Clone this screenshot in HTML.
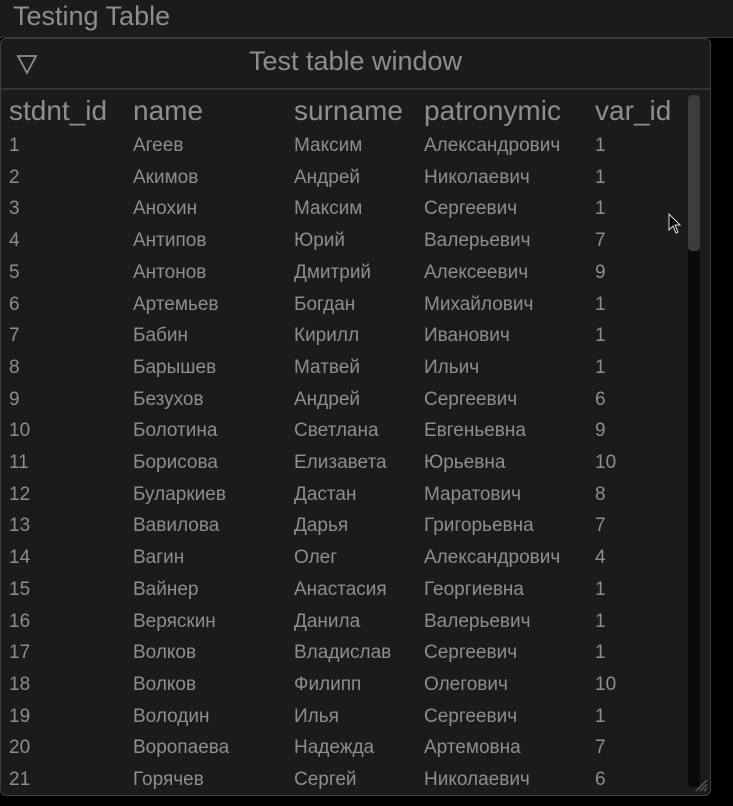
<!DOCTYPE html>
<html><head><meta charset="utf-8"><style>
body{margin:0;width:733px;height:806px;background:#000;overflow:hidden;font-family:"Liberation Sans","DejaVu Sans",sans-serif;color:#8e8e8e;position:relative}
.top{position:absolute;left:0;top:0;width:733px;height:37px;background:#1b1b1b;border-bottom:1px solid #3a3a3a}
.top span{position:absolute;left:13px;top:1px;font-size:27px;color:#8e8e8e}
.win{position:absolute;left:0;top:38px;width:709px;height:756px;background:#1b1b1b;border:1px solid #3c3c3c;border-radius:6px;overflow:hidden}
.tb{position:absolute;left:0;top:0;width:709px;height:49px;border-bottom:2px solid #333}
.tb .t{position:absolute;left:0;width:709px;text-align:center;top:7px;font-size:27px}
.h{position:absolute;top:56px;font-size:28px}
.c{position:absolute;font-size:19px;white-space:nowrap}
.track{position:absolute;left:687px;top:56px;width:12px;height:692px;background:#0a0a0a;border-radius:4px}
.thumb{position:absolute;left:687px;top:56px;width:12px;height:156px;background:#3c3c3c;border-radius:4px}
</style></head><body>
<div class="top"><span>Testing Table</span></div>
<div class="win">
<div class="tb"><svg style="position:absolute;left:15px;top:14px" width="22" height="22"><polygon points="2,3 20,3 11,20" fill="none" stroke="#8e8e8e" stroke-width="1.8"/></svg><div class="t">Test table window</div></div>
<div class="h" style="left:8px">stdnt_id</div><div class="h" style="left:132px">name</div><div class="h" style="left:293px">surname</div><div class="h" style="left:423px">patronymic</div><div class="h" style="left:594px">var_id</div>
<div class="track"></div><div class="thumb"></div>
<svg style="position:absolute;left:692px;top:738px" width="16" height="16"><path d="M3 14L14 3M7 14L14 7M11 14L14 11" stroke="#555" stroke-width="1.5"/></svg>
<div id="rows"></div>
</div>
<svg style="position:absolute;left:668px;top:213px" width="14" height="22"><path d="M1 1L1 17L5 13L8 20L10 19L7 12L12 12Z" fill="#000" stroke="#ddd" stroke-width="1"/></svg>
<script>
var d=[["Агеев","Максим","Александрович",1],["Акимов","Андрей","Николаевич",1],["Анохин","Максим","Сергеевич",1],["Антипов","Юрий","Валерьевич",7],["Антонов","Дмитрий","Алексеевич",9],["Артемьев","Богдан","Михайлович",1],["Бабин","Кирилл","Иванович",1],["Барышев","Матвей","Ильич",1],["Безухов","Андрей","Сергеевич",6],["Болотина","Светлана","Евгеньевна",9],["Борисова","Елизавета","Юрьевна",10],["Буларкиев","Дастан","Маратович",8],["Вавилова","Дарья","Григорьевна",7],["Вагин","Олег","Александрович",4],["Вайнер","Анастасия","Георгиевна",1],["Веряскин","Данила","Валерьевич",1],["Волков","Владислав","Сергеевич",1],["Волков","Филипп","Олегович",10],["Володин","Илья","Сергеевич",1],["Воропаева","Надежда","Артемовна",7],["Горячев","Сергей","Николаевич",6]];
var h="",x=[8,132,293,423,594];
d.forEach(function(r,i){var y=96+i*31.7;var v=[i+1,r[0],r[1],r[2],r[3]];for(var j=0;j<5;j++)h+='<div class="c" style="left:'+x[j]+'px;top:'+y+'px">'+v[j]+'</div>';});
document.getElementById("rows").innerHTML=h;
</script>
</body></html>
